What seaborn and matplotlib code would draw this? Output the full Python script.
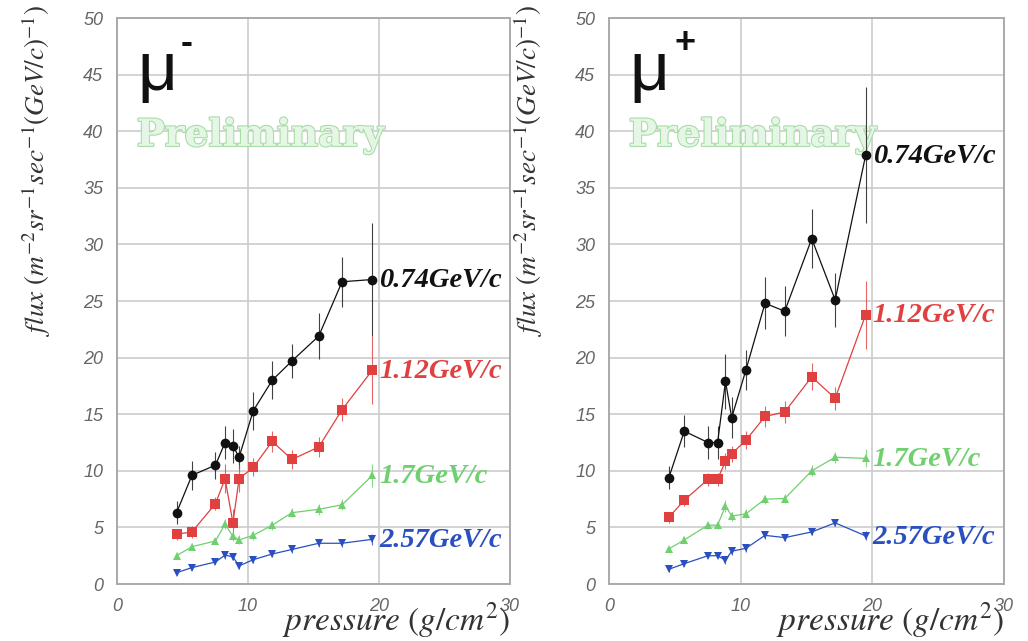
import matplotlib
matplotlib.use("Agg")
import matplotlib.pyplot as plt
import matplotlib.patheffects as pe
from matplotlib.ticker import MultipleLocator
import seaborn as sns

# pressure (g/cm^2), same bins for both charges
pressure = [4.55, 5.72, 7.52, 8.25, 8.85, 9.32, 10.4, 11.85, 13.35, 15.4, 17.18, 19.5]

momenta = ["0.74GeV/c", "1.12GeV/c", "1.7GeV/c", "2.57GeV/c"]

# mu- fluxes
mum_074 = [6.3, 9.6, 10.5, 12.5, 12.2, 11.2, 15.3, 18.0, 19.7, 21.9, 26.7, 26.9]
mum_112 = [4.4, 4.6, 7.1, 9.3, 5.4, 9.3, 10.3, 12.6, 11.0, 12.1, 15.4, 18.9]
mum_17 = [2.5, 3.3, 3.8, 5.3, 4.2, 3.9, 4.3, 5.2, 6.3, 6.6, 7.0, 9.6]
mum_257 = [1.0, 1.45, 1.95, 2.55, 2.4, 1.6, 2.15, 2.65, 3.05, 3.6, 3.6, 3.95]
mum_074_err = [1.0, 1.3, 1.2, 1.5, 1.5, 1.0, 1.7, 1.7, 1.5, 2.0, 2.2, 5.0]
mum_112_err = [0.5, 0.5, 0.6, 1.3, 1.2, 1.2, 0.8, 0.9, 0.8, 0.9, 1.0, 3.0]
mum_17_err = [0.3, 0.3, 0.3, 0.4, 0.4, 0.4, 0.4, 0.4, 0.4, 0.5, 0.5, 1.0]
mum_257_err = [0.2, 0.2, 0.2, 0.3, 0.3, 0.3, 0.3, 0.3, 0.3, 0.3, 0.3, 0.5]

# mu+ fluxes
mup_074 = [9.4, 13.5, 12.5, 12.5, 17.9, 14.7, 18.9, 24.8, 24.1, 30.5, 25.1, 37.9]
mup_112 = [5.9, 7.4, 9.25, 9.25, 10.85, 11.5, 12.7, 14.8, 15.2, 18.3, 16.4, 23.8]
mup_17 = [3.1, 3.9, 5.2, 5.2, 6.9, 6.0, 6.2, 7.5, 7.55, 10.0, 11.2, 11.1]
mup_257 = [1.3, 1.8, 2.5, 2.5, 2.1, 2.9, 3.15, 4.3, 4.1, 4.6, 5.4, 4.25]
mup_074_err = [1.0, 1.4, 1.5, 1.5, 2.4, 1.8, 1.8, 2.3, 2.2, 2.6, 2.4, 6.0]
mup_112_err = [0.5, 0.5, 0.6, 0.6, 0.7, 0.7, 0.8, 0.9, 1.0, 1.2, 1.0, 3.0]
mup_17_err = [0.3, 0.3, 0.3, 0.3, 0.5, 0.4, 0.4, 0.4, 0.4, 0.5, 0.5, 0.8]
mup_257_err = [0.2, 0.2, 0.2, 0.2, 0.3, 0.3, 0.3, 0.3, 0.3, 0.3, 0.3, 0.4]

colors = ["#111111", "#e04040", "#70d070", "#2a4fc0"]
markers = ["o", "s", "^", "v"]
msizes = [7, 7, 6, 6]

sns.set_style("white")
plt.rcParams["font.family"] = ["Liberation Sans", "DejaVu Sans"]
plt.rcParams["mathtext.fontset"] = "stix"

fig = plt.figure(figsize=(10.28, 6.41), dpi=100)
ax_m = fig.add_axes([0.1138, 0.0889, 0.3823, 0.8830])
ax_p = fig.add_axes([0.5924, 0.0889, 0.3842, 0.8830])

panels = [
    (ax_m, "-", 0.163, [mum_074, mum_112, mum_17, mum_257],
     [mum_074_err, mum_112_err, mum_17_err, mum_257_err]),
    (ax_p, "+", 0.165, [mup_074, mup_112, mup_17, mup_257],
     [mup_074_err, mup_112_err, mup_17_err, mup_257_err]),
]

ylab = r"$\mathit{flux\ (m^{-2}sr^{-1}sec^{-1}(GeV/c)^{-1})}$"

for ax, sign, sx, series, errs in panels:
    for vals, err, col, mk, ms, lab in zip(series, errs, colors, markers, msizes, momenta):
        ax.errorbar(pressure, vals, yerr=err, fmt="none", ecolor=col,
                    elinewidth=0.8, alpha=0.8, zorder=2)
        sns.lineplot(x=pressure, y=vals, ax=ax, color=col, marker=mk,
                     markersize=ms, markeredgewidth=0, linewidth=0.9,
                     sort=False, estimator=None, zorder=3)
        ax.annotate(lab, (pressure[-1], vals[-1]), xytext=(5, -1),
                    textcoords="offset points", va="center", ha="left",
                    color=col, fontsize=20.5, fontweight="bold", fontstyle="italic",
                    family="Liberation Serif", zorder=4)

    ax.set_xlim(0, 30)
    ax.set_ylim(0, 50)
    ax.xaxis.set_major_locator(MultipleLocator(10))
    ax.xaxis.set_minor_locator(MultipleLocator(2))
    ax.yaxis.set_major_locator(MultipleLocator(5))
    ax.yaxis.set_minor_locator(MultipleLocator(1))
    ax.grid(True, which="major", color="#cccccc", linewidth=1.2)
    ax.set_axisbelow(True)
    for sp in ax.spines.values():
        sp.set_color("#aaaaaa")
        sp.set_linewidth(1.4)
    ax.tick_params(which="both", direction="in", colors="#999999",
                   labelcolor="#666666", labelsize=13)
    ax.tick_params(which="major", length=7, pad=10)
    ax.tick_params(which="minor", length=4)
    for t in ax.get_xticklabels() + ax.get_yticklabels():
        t.set_fontstyle("italic")
    ax.set_xlabel("")
    ax.set_ylabel("")

    ax.text(-0.205, 1.023, ylab, rotation=90, ha="center", va="top",
            transform=ax.transAxes, fontsize=19.5, color="#333333")
    ax.text(1.0, -0.082, r"$\mathit{pressure\ (g/cm^{2})}$", ha="right",
            va="baseline", transform=ax.transAxes, fontsize=24, color="#333333")

    ax.text(0.052, 0.872, "\u03bc", transform=ax.transAxes, fontsize=50,
            ha="left", va="baseline", color="#111111")
    ax.text(sx, 0.955, sign, transform=ax.transAxes, fontsize=26,
            fontweight="bold", ha="left", va="center", color="#111111")
    ax.text(0.05, 0.774, "Preliminary", transform=ax.transAxes, fontsize=27,
            fontweight="bold", family="DejaVu Serif", color="#e6f6e6",
            ha="left", va="baseline", zorder=1,
            path_effects=[pe.Stroke(linewidth=1.6, foreground="#a6dea6"), pe.Normal()])

fig.savefig("out.png", dpi=100)
